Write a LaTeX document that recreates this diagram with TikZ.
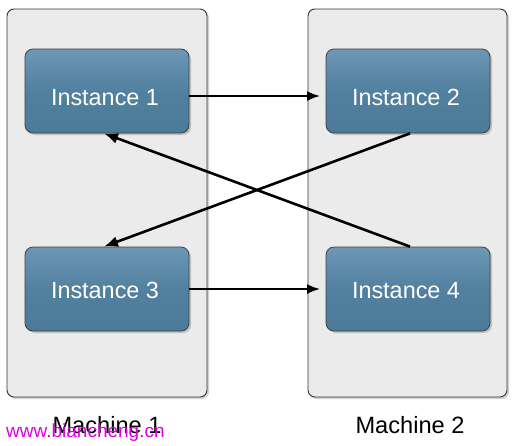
\documentclass[tikz,border=0pt]{standalone}
\usepackage{fontspec}
\setmainfont{Liberation Sans}
\usetikzlibrary{arrows.meta,shadows,calc}
\definecolor{instblue}{HTML}{52809F}
\definecolor{instdark}{HTML}{4C7A99}
\definecolor{instlight}{HTML}{6C98B6}
\definecolor{machgray}{HTML}{EBEBEB}
\definecolor{wmark}{HTML}{E000E0}
\begin{document}
\begin{tikzpicture}[x=1pt,y=-1pt,
  machine/.style={draw=black!80,line width=0.9pt,fill=machgray,rounded corners=7pt,
    drop shadow={shadow xshift=2pt,shadow yshift=-2pt,opacity=0.35}},
  inst/.style={draw=black!75,line width=0.8pt,rounded corners=8pt,
    top color=instlight,bottom color=instdark,middle color=instblue,
    minimum width=164pt,minimum height=84pt,
    drop shadow={shadow xshift=2pt,shadow yshift=-2pt,opacity=0.4}},
  itext/.style={text=white,font=\fontsize{23.4}{26}\selectfont,anchor=base},
  mlabel/.style={font=\fontsize{23.6}{26}\selectfont,anchor=base},
  harrow/.style={line width=1.8pt,-{Latex[length=13pt,width=10pt]}},
  darrow/.style={line width=2.6pt,-{Latex[length=14pt,width=11pt]}}
]
\useasboundingbox (0,0) rectangle (518,445);
\fill[white] (0,0) rectangle (518,445);
\draw[machine] (7,9) rectangle (207,397);
\draw[machine] (308,9) rectangle (507,397);
\node[inst] (i1) at (107,91) {};
\node[inst] (i2) at (408,91) {};
\node[inst] (i3) at (107,289) {};
\node[inst] (i4) at (408,289) {};
\node[itext] (t1) at (105,105) {Instance 1};
\node[itext] (t2) at (406,105) {Instance 2};
\node[itext] (t3) at (105,298) {Instance 3};
\node[itext] (t4) at (406,298) {Instance 4};
\coordinate (a1) at (i1.east |- 0,96);
\coordinate (b1) at (320,96);
\coordinate (a3) at (i3.east |- 0,289);
\coordinate (b3) at (320,289);
\draw[harrow] (a1) -- (b1);
\draw[harrow] (a3) -- (b3);
\draw[darrow] ([xshift=2pt]i2.south) -- ([xshift=-3pt]i3.north);
\draw[darrow] ([xshift=2pt]i4.north) -- ([xshift=-3pt]i1.south);
\node[mlabel] (m1) at (107,433) {Machine 1};
\node[mlabel] (m2) at (410,433) {Machine 2};
\node[font=\fontsize{19}{22}\selectfont,text=wmark,anchor=base west,inner sep=0pt] (wm) at (6,437) {www.biancheng.cn};
\end{tikzpicture}
\end{document}
